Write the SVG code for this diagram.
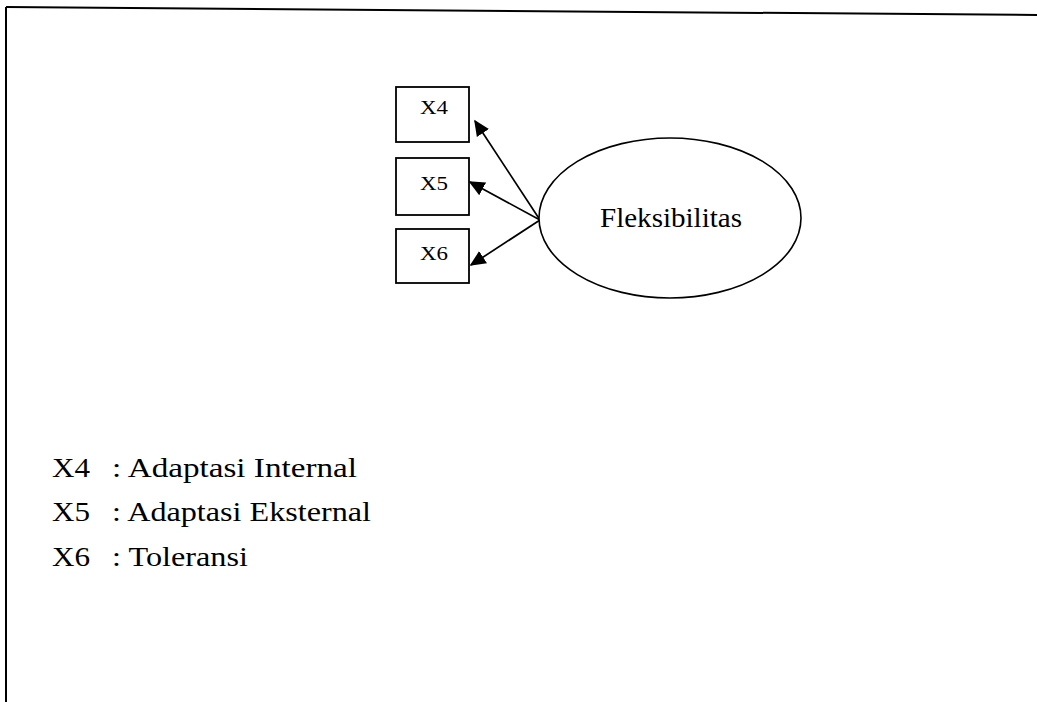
<svg xmlns="http://www.w3.org/2000/svg" width="1037" height="702" viewBox="0 0 1037 702">
<defs>
<style>
.frame{stroke:#000;stroke-width:2;fill:none}
.box{fill:#fff;stroke:#000;stroke-width:1.8}
.ell{fill:#fff;stroke:#000;stroke-width:1.6}
.edge{stroke:#000;stroke-width:1.7;fill:none}
.t{font-family:"Liberation Serif","Times New Roman",serif;fill:#000}
.lbl{font-size:19px}
.big{font-size:28px}
.leg{font-size:27px}
</style>
<marker id="ah" viewBox="0 0 10 10" refX="9" refY="5" markerWidth="16" markerHeight="16" markerUnits="userSpaceOnUse" orient="auto">
<path d="M0,0.5 L10,5 L0,9.5 z" fill="#000"/>
</marker>
</defs>
<rect width="1037" height="702" fill="#fff"/>
<g id="frame">
<line class="frame" x1="6" y1="7" x2="1037" y2="15"/>
<line class="frame" x1="6" y1="7" x2="6" y2="702"/>
</g>
<g id="connectors">
<line class="edge" x1="540" y1="220" x2="475" y2="121" marker-end="url(#ah)"/>
<line class="edge" x1="540" y1="220" x2="470" y2="182" marker-end="url(#ah)"/>
<line class="edge" x1="540" y1="220" x2="471" y2="265" marker-end="url(#ah)"/>
</g>
<g id="X4">
<rect class="box" x="396" y="87" width="73" height="55"/>
<text class="t lbl" x="420" y="114" textLength="28" lengthAdjust="spacingAndGlyphs">X4</text>
</g>
<g id="X5">
<rect class="box" x="396" y="158" width="73" height="57"/>
<text class="t lbl" x="420" y="190" textLength="28" lengthAdjust="spacingAndGlyphs">X5</text>
</g>
<g id="X6">
<rect class="box" x="396" y="229" width="73" height="54"/>
<text class="t lbl" x="420" y="260" textLength="28" lengthAdjust="spacingAndGlyphs">X6</text>
</g>
<g id="Fleksibilitas">
<ellipse class="ell" cx="670" cy="218" rx="131" ry="80"/>
<text class="t big" x="600" y="227" textLength="142" lengthAdjust="spacingAndGlyphs">Fleksibilitas</text>
</g>
<g id="legend">
<text class="t leg" x="52" y="477" textLength="38" lengthAdjust="spacingAndGlyphs">X4</text>
<text class="t leg" x="112" y="477" textLength="245" lengthAdjust="spacingAndGlyphs">: Adaptasi Internal</text>
<text class="t leg" x="52" y="521" textLength="38" lengthAdjust="spacingAndGlyphs">X5</text>
<text class="t leg" x="112" y="521" textLength="259" lengthAdjust="spacingAndGlyphs">: Adaptasi Eksternal</text>
<text class="t leg" x="52" y="566" textLength="38" lengthAdjust="spacingAndGlyphs">X6</text>
<text class="t leg" x="112" y="566" textLength="136" lengthAdjust="spacingAndGlyphs">: Toleransi</text>
</g>
</svg>
